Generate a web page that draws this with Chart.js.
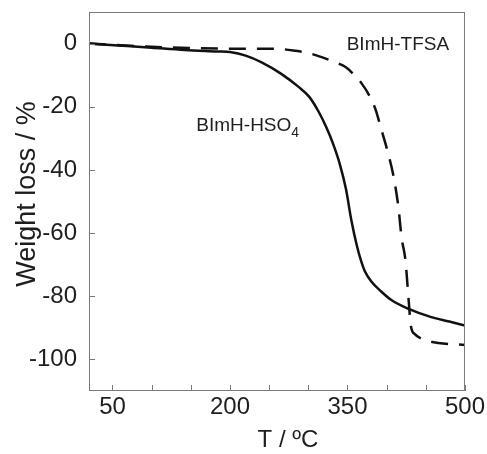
<!DOCTYPE html>
<html>
<head>
<meta charset="utf-8">
<script src="https://cdn.jsdelivr.net/npm/chart.js@4"></script>
<style>
  html, body { margin: 0; padding: 0; background: #fff; }
  #c { display: block; }
</style>
</head>
<body>
<canvas id="c" width="487" height="454"></canvas>
<script>
// Curvas TGA: temperatura (ºC) y perdida de peso (%)
const tempHSO4 = [20, 57, 100, 142, 184, 200, 220, 241, 265, 288, 301, 313, 323, 332, 340, 348, 355, 362, 367, 372, 381, 393, 406, 428, 457, 480, 500];
const lossHSO4 = [0, -0.6, -1.3, -2.0, -2.5, -2.7, -3.8, -6.0, -9.5, -13.8, -16.8, -21.5, -26.5, -32, -38, -46, -56, -64, -68.5, -72, -75.5, -78.5, -81.2, -84, -86.6, -88, -89.3];

const tempTFSA = [20, 60, 100, 150, 200, 262, 284, 300, 317, 333, 348, 358, 368, 378, 386, 393, 400, 409, 415, 419, 424, 428, 431, 436, 445, 466, 500];
const lossTFSA = [0, -0.5, -1.0, -1.4, -1.6, -1.7, -2.3, -3.0, -4.3, -5.8, -7.5, -9.8, -12.6, -16.5, -21, -27, -33, -42.3, -51.8, -61.3, -68.6, -81, -89.5, -92, -93.5, -94.8, -95.4];

// Ejes
const xTicks = [50, 100, 150, 200, 250, 300, 350, 400, 450, 500];
const xLabels = [50, 200, 350, 500];
const yTicks = [0, -20, -40, -60, -80, -100];

const FONT = "'Liberation Sans', Arial, sans-serif";
const TEXT = '#1e1e1e';
const FRAME = '#7a7a7a';

function toPoints(xs, ys) {
  return xs.map((x, i) => ({ x: x, y: ys[i] }));
}

// Marco, marcas hacia dentro, titulos de ejes y rotulos de las curvas
const framePlugin = {
  id: 'frame',
  afterDatasetsDraw(chart) {
    const { ctx, chartArea: a, scales } = chart;
    ctx.save();
    ctx.strokeStyle = FRAME;
    ctx.lineWidth = 1;
    ctx.strokeRect(a.left + 0.5, a.top + 0.5, a.right - a.left - 1, a.bottom - a.top - 1);
    ctx.beginPath();
    xTicks.forEach(v => {
      const px = Math.round(scales.x.getPixelForValue(v)) + 0.5;
      ctx.moveTo(px, a.bottom);
      ctx.lineTo(px, a.bottom - 6);
    });
    yTicks.forEach(v => {
      const py = Math.round(scales.y.getPixelForValue(v)) + 0.5;
      ctx.moveTo(a.left, py);
      ctx.lineTo(a.left + 6, py);
    });
    ctx.stroke();

    ctx.fillStyle = TEXT;
    ctx.textBaseline = 'middle';

    // titulos de los ejes
    ctx.textAlign = 'center';
    ctx.font = '24px ' + FONT;
    ctx.fillText('T / ºC', a.left + 199, 440);
    ctx.save();
    ctx.translate(28, a.top + 182);
    ctx.rotate(-Math.PI / 2);
    ctx.font = '27px ' + FONT;
    ctx.fillText('Weight loss / %', 0, 0);
    ctx.restore();

    // rotulos de las curvas
    ctx.textAlign = 'left';
    ctx.font = '19px ' + FONT;
    ctx.fillText('BImH-TFSA', scales.x.getPixelForValue(349), scales.y.getPixelForValue(-0.3));

    const hx = scales.x.getPixelForValue(157);
    const hy = scales.y.getPixelForValue(-25.9);
    const main = 'BImH-HSO';
    ctx.fillText(main, hx, hy);
    const w = ctx.measureText(main).width;
    ctx.font = '14px ' + FONT;
    ctx.fillText('4', hx + w, hy + 8);
    ctx.restore();
  }
};

new Chart(document.getElementById('c'), {
  type: 'line',
  data: {
    datasets: [
      {
        label: 'BImH-HSO4',
        data: toPoints(tempHSO4, lossHSO4),
        borderColor: '#111',
        borderWidth: 2.5,
        pointRadius: 0,
        cubicInterpolationMode: 'monotone',
        fill: false
      },
      {
        label: 'BImH-TFSA',
        data: toPoints(tempTFSA, lossTFSA),
        borderColor: '#111',
        borderWidth: 2.5,
        borderDash: [17, 11],
        pointRadius: 0,
        cubicInterpolationMode: 'monotone',
        fill: false
      }
    ]
  },
  options: {
    responsive: false,
    animation: false,
    layout: { padding: { top: 12, right: 21, left: 0, bottom: 0 } },
    plugins: {
      legend: { display: false },
      tooltip: { enabled: false }
    },
    scales: {
      x: {
        type: 'linear',
        min: 20,
        max: 500,
        grid: { display: false, drawTicks: false },
        border: { display: false },
        afterBuildTicks: scale => { scale.ticks = xTicks.map(v => ({ value: v })); },
        afterFit: scale => { scale.height = 63; },
        ticks: {
          autoSkip: false,
          maxRotation: 0,
          padding: 2,
          color: TEXT,
          font: { family: FONT, size: 24 },
          callback: v => xLabels.includes(v) ? String(v) : ''
        }
      },
      y: {
        min: -110,
        max: 10,
        grid: { display: false, drawTicks: false },
        border: { display: false },
        afterBuildTicks: scale => { scale.ticks = yTicks.map(v => ({ value: v })); },
        afterFit: scale => { scale.width = 89; },
        ticks: {
          padding: 12,
          color: TEXT,
          // lineHeight 0 para que la etiqueta superior no empuje el area del grafico
          font: { family: FONT, size: 24, lineHeight: 0 }
        }
      }
    }
  },
  plugins: [framePlugin]
});
</script>
</body>
</html>
